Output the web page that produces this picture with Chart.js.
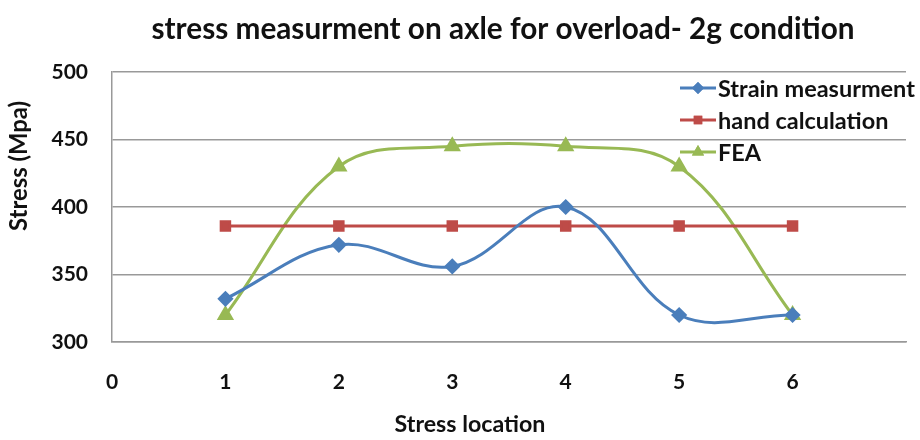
<!DOCTYPE html>
<html><head><meta charset="utf-8">
<script src="https://cdn.jsdelivr.net/npm/chart.js@4/dist/chart.umd.min.js"></script>
<style>html,body{margin:0;padding:0;background:#fff}#wrap{width:920px;height:440px}</style>
</head><body><div id="wrap"><canvas id="c" width="920" height="440"></canvas></div>
<script>
const locations = [1, 2, 3, 4, 5, 6];
const strainMeasurement = [332, 372, 356, 400, 320, 320];
const handCalculation = [386, 386, 386, 386, 386, 386];
const feaValues = [320, 430, 445, 445, 430, 320];
const seriesNames = ['Strain measurment', 'hand calculation', 'FEA'];
const yTicks = [300, 350, 400, 450, 500];
const xTicks = [0, 1, 2, 3, 4, 5, 6];
const titleText = 'stress measurment on axle for overload- 2g condition';
const xTitle = 'Stress location';
const yTitle = 'Stress (Mpa)';

const FONT = 'Lato, "Open Sans", sans-serif';
const colors = ['#4a7ebb', '#be4b48', '#98b954'];
const styles = ['rectRot', 'rect', 'triangle'];

const toPts = arr => locations.map((x, i) => ({x, y: arr[i]}));

function fitFont(ctx, text, width) {
  ctx.font = 'bold 20px ' + FONT;
  const w = ctx.measureText(text).width;
  const size = 20 * width / w;
  ctx.font = 'bold ' + size.toFixed(2) + 'px ' + FONT;
}

const textPlugin = {
  id: 'texts',
  afterDraw(chart) {
    const ctx = chart.ctx;
    ctx.save();
    ctx.fillStyle = '#111';
    ctx.textBaseline = 'middle';
    ctx.textAlign = 'center';
    fitFont(ctx, titleText, 703);
    ctx.fillText(titleText, 503, 29);
    fitFont(ctx, xTitle, 151);
    ctx.fillText(xTitle, 470, 425);
    ctx.save();
    ctx.translate(19, 166);
    ctx.rotate(-Math.PI / 2);
    fitFont(ctx, yTitle, 130);
    ctx.fillText(yTitle, 0, 0);
    ctx.restore();
    // legend
    ctx.textAlign = 'left';
    fitFont(ctx, seriesNames[0], 197);
    const ys = [88, 120, 152];
    chart.data.datasets.forEach((ds, i) => {
      const y = ys[i];
      ctx.strokeStyle = ds.borderColor;
      ctx.lineWidth = 3;
      ctx.beginPath(); ctx.moveTo(680, y); ctx.lineTo(716, y); ctx.stroke();
      ctx.fillStyle = ds.borderColor;
      ctx.beginPath();
      Chart.helpers.drawPoint(ctx, {pointStyle: ds.pointStyle, radius: ds.pointRadius, borderWidth: 0, rotation: 0}, 698, y);
      ctx.fill();
      ctx.fillStyle = '#111';
      ctx.fillText(seriesNames[i], 718, y + 1);
    });
    ctx.restore();
  }
};

new Chart(document.getElementById('c'), {
  type: 'line',
  data: {
    datasets: [
      {label: seriesNames[0], data: toPts(strainMeasurement), borderColor: colors[0], backgroundColor: colors[0], pointStyle: styles[0], pointRadius: 6, borderWidth: 3, tension: 0.38},
      {label: seriesNames[1], data: toPts(handCalculation), borderColor: colors[1], backgroundColor: colors[1], pointStyle: styles[1], pointRadius: 6, borderWidth: 3, tension: 0},
      {label: seriesNames[2], data: toPts(feaValues), borderColor: colors[2], backgroundColor: colors[2], pointStyle: styles[2], pointRadius: 7, borderWidth: 3, tension: 0.38}
    ]
  },
  options: {
    responsive: false,
    animation: false,
    layout: {padding: {left: 0, right: 14, top: 72, bottom: 0}},
    plugins: {legend: {display: false}, title: {display: false}, tooltip: {enabled: false}},
    scales: {
      x: {
        type: 'linear', min: 0, max: 7,
        afterFit: s => { s.height = 98; },
        afterBuildTicks: s => { s.ticks = xTicks.map(v => ({value: v})); },
        grid: {display: false, drawTicks: false},
        border: {display: true, color: '#999', width: 1.5},
        ticks: {padding: 28, color: '#111', font: {family: FONT, size: 21, weight: 'bold'}}
      },
      y: {
        min: 300, max: 500,
        afterFit: s => { s.width = 112; },
        afterBuildTicks: s => { s.ticks = yTicks.map(v => ({value: v})); },
        grid: {color: '#999', lineWidth: 1.5, drawTicks: false},
        border: {display: true, color: '#999', width: 1.5},
        ticks: {padding: 24, color: '#111', font: {family: FONT, size: 21, weight: 'bold'}}
      }
    }
  },
  plugins: [textPlugin]
});
</script>
</body></html>
